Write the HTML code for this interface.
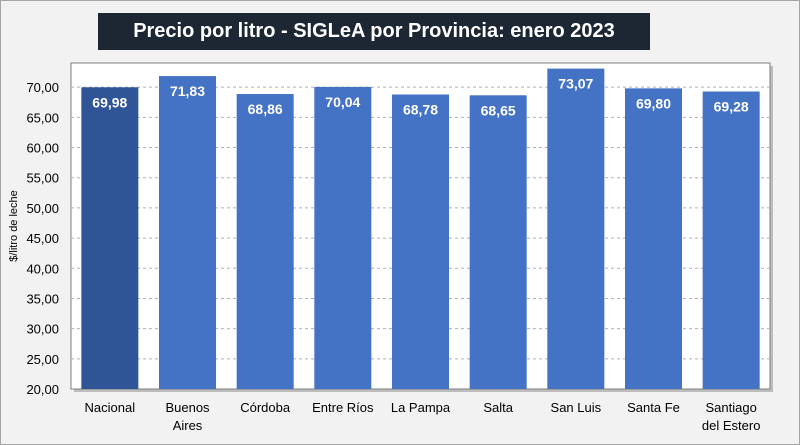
<!DOCTYPE html>
<html><head><meta charset="utf-8"><style>
body{margin:0;width:800px;height:445px;background:#f2f2f2;font-family:"Liberation Sans",sans-serif;overflow:hidden}
#frame{position:absolute;left:0;top:0;width:798px;height:443px;border:1px solid #a6a6a6}
#title{position:absolute;left:98px;top:13px;width:552px;height:37px;background:#1c2733;color:#fff;font-weight:bold;font-size:20px;line-height:37px;text-align:center;white-space:nowrap;overflow:hidden}
svg{position:absolute;left:0;top:0}
</style></head><body>
<div id="frame"></div>
<div id="title">Precio por litro - SIGLeA por Provincia: enero 2023</div>
<svg id="c" width="800" height="445"></svg>
<script>
const categories=[["Nacional"],["Buenos","Aires"],["Córdoba"],["Entre Ríos"],["La Pampa"],["Salta"],["San Luis"],["Santa Fe"],["Santiago","del Estero"]];
const values=[69.98,71.83,68.86,70.04,68.78,68.65,73.07,69.80,69.28];
const ticks=[20,25,30,35,40,45,50,55,60,65,70];
const NS="http://www.w3.org/2000/svg";
const svg=document.getElementById('c');
const L=71,R=770,T=63,B=389,ymin=20,ymax=74;
const y=v=>B-(v-ymin)/(ymax-ymin)*(B-T);
const bw=(R-L)/categories.length;
const x=i=>L+i*bw;
function mk(t,a,p){const e=document.createElementNS(NS,t);for(const k in a)e.setAttribute(k,a[k]);(p||svg).appendChild(e);return e;}
const sh=mk('rect',{x:L+3,y:T+3,width:R-L,height:B-T,fill:'#9a9a9a',opacity:0.6});


const pa=mk('rect',{x:L,y:T,width:R-L,height:B-T,fill:'#fff',stroke:'#7f7f7f','stroke-width':1});


ticks.forEach(t=>{
 if(t>ymin){const g=mk('line',{x1:L,x2:R,y1:y(t),y2:y(t),stroke:'#b0b0b0','stroke-dasharray':'3,3'});
 
 }
 const tx=mk('text',{x:L-12,y:y(t)+5,'text-anchor':'end','font-size':13,fill:'#000'});
 tx.textContent=t.toFixed(2).replace('.',',');
 
 
});
values.forEach((v,i)=>{
 const bx=x(i)+(bw-57)/2;
 const r=mk('rect',{x:bx,y:y(v),width:57,height:B-y(v),fill:i===0?'#2f5597':'#4472c4'});
 
 
 const lb=mk('text',{x:bx+28.5,y:y(v)+20,'text-anchor':'middle','font-size':14,'font-weight':'bold',fill:'#fff'});
 lb.textContent=v.toFixed(2).replace('.',',');
 
 
 categories[i].forEach((s,j)=>{
  const c=mk('text',{x:bx+28.5,y:B+23+j*18,'text-anchor':'middle','font-size':13,fill:'#000'});
  c.textContent=s;
  
  
 });
});
const yt=mk('text',{x:17,y:(T+B)/2,'text-anchor':'middle','font-size':11,fill:'#000',transform:`rotate(-90 17 ${(T+B)/2})`});
yt.textContent='$/litro de leche';


</script>
</body></html>
